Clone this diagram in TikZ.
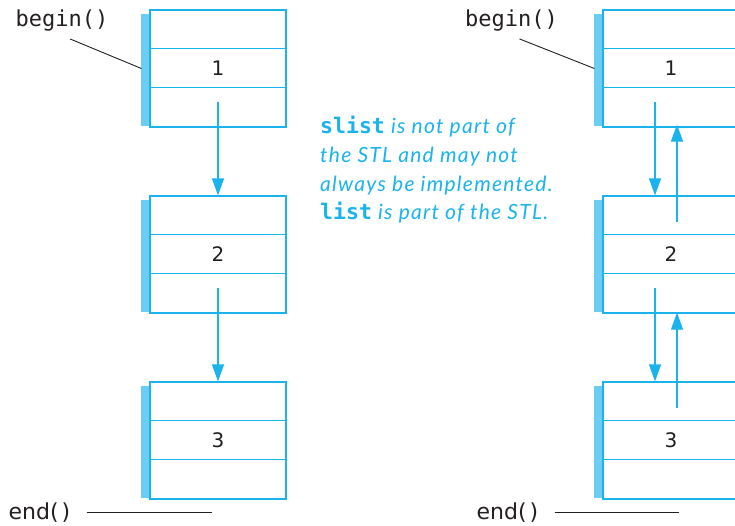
\documentclass[tikz,border=0pt]{standalone}
\usepackage{fontspec}
\setmainfont{DejaVu Sans}
\setmonofont{DejaVu Sans Mono}
\newfontfamily\notefont[LetterSpace=6]{Lato}
\usetikzlibrary{arrows.meta,calc,backgrounds}
\definecolor{cyanline}{RGB}{26,179,236}
\definecolor{cyanshade}{RGB}{107,205,244}
\definecolor{ink}{RGB}{35,31,32}
\tikzset{
  elem/.style={draw=cyanline, line width=1.2pt, fill=white, minimum width=136pt,
               minimum height=117pt, inner sep=0pt, text=ink,
               font=\fontsize{20}{20}\selectfont},
  row/.style={draw=cyanline, line width=1.2pt},
  link/.style={-{Triangle[length=17pt,width=12pt]}, line width=1.2pt, draw=cyanline},
  ptr/.style={draw=ink, line width=0.9pt},
  iter/.style={anchor=base, inner sep=0pt, text=ink, font=\ttfamily\fontsize{22}{22}\selectfont},
  itersf/.style={anchor=base, inner sep=0pt, text=ink, font=\fontsize{22}{21}\selectfont},
  note/.style={anchor=north west, inner sep=0pt, align=left, text=cyanline,
               font=\notefont\itshape\fontsize{21}{28.7}\selectfont},
}
\newcommand{\code}[1]{{\ttfamily\bfseries\upshape\fontsize{21.5}{20}\selectfont #1}}

\begin{document}
\begin{tikzpicture}[x=1pt,y=-1pt]
  \path[use as bounding box, clip] (0,0) rectangle (735,525);

  % singly linked list
  \node[elem] (l1) at (218,68.5) {1};
  \node[elem] (l2) at (218,254.5) {2};
  \node[elem] (l3) at (218,440.5) {3};

  % doubly linked list
  \node[elem] (r1) at (671,68.5) {1};
  \node[elem] (r2) at (671,254.5) {2};
  \node[elem] (r3) at (671,440.5) {3};

  \foreach \b in {l1,l2,l3,r1,r2,r3} {
    \draw[row] ($(\b.north west)+(0,39)$) -- ($(\b.north east)+(0,39)$);
    \draw[row] ($(\b.north west)+(0,78)$) -- ($(\b.north east)+(0,78)$);
  }
  \begin{scope}[on background layer]
    \foreach \b in {l1,l2,l3,r1,r2,r3}
      \fill[cyanshade] ($(\b.north west)+(-8,5)$) rectangle ($(\b.south east)+(-5,-2)$);
  \end{scope}

  \draw[link] ($(l1.center)+(0,33)$) -- (l2.north);
  \draw[link] ($(l2.center)+(0,33)$) -- (l3.north);

  \draw[link] ($(r1.center)+(-16,33)$) -- ($(r2.north)+(-16,0)$);
  \draw[link] ($(r2.center)+(6,-33)$) -- ($(r1.south)+(6,-3)$);
  \draw[link] ($(r2.center)+(-16,33)$) -- ($(r3.north)+(-16,0)$);
  \draw[link] ($(r3.center)+(6,-33)$) -- ($(r2.south)+(6,-1)$);

  % iterators
  \node[iter] (lb) at (62,26) {begin()};
  \node[iter] (rb) at (511.5,26) {begin()};
  \draw[ptr] ($(lb.south)+(8,8)$) -- ($(l1.west)+(-8,0)$);
  \draw[ptr] ($(rb.south)+(8,8)$) -- ($(r1.west)+(-8,0)$);

  \node[itersf] (le) at (39.5,519) {end(\kern3pt)};
  \node[itersf] (re) at (507.5,519) {end(\kern3pt)};
  \draw[ptr] ($(le.east)+(16,0)$) -- ++(125,0);
  \draw[ptr] ($(re.east)+(16,0)$) -- ++(124,0);

  \node[note] (txt) at (320,116)
    {\code{slist} is not part of\\
     the STL and may not\\
     always be implemented.\\
     \code{list} is part of the STL.};
\end{tikzpicture}
\end{document}
